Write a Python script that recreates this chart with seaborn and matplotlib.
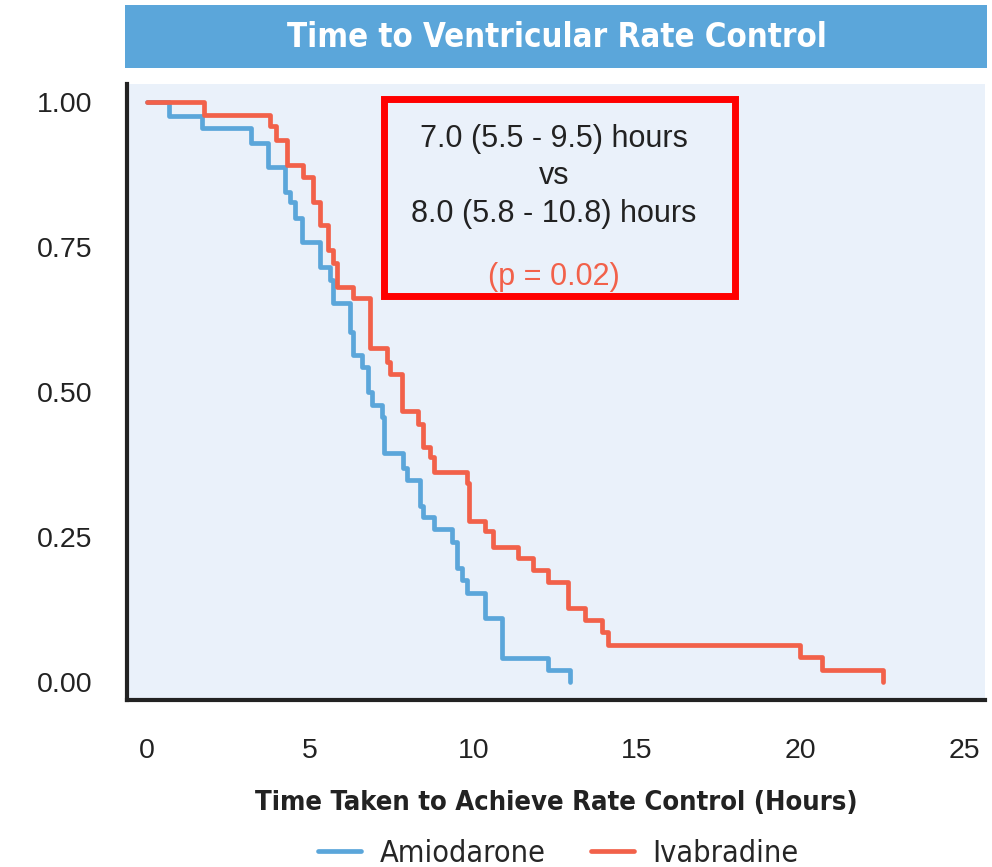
import pandas as pd
import seaborn as sns
import matplotlib.pyplot as plt
from matplotlib.patches import Rectangle
import matplotlib.font_manager as fm

# Kaplan-Meier style steps
amio_time = [0, 0.7, 1.7, 3.2, 3.7, 4.22, 4.38, 4.53, 4.74, 5.29, 5.6, 5.69, 6.21, 6.3,
             6.58, 6.76, 6.88, 7.2, 7.25, 7.83, 7.96, 8.35, 8.45, 8.78, 9.33, 9.49,
             9.64, 9.79, 10.34, 10.86, 12.27, 12.94]
amio_surv = [1.0, 0.976, 0.955, 0.93, 0.888, 0.845, 0.828, 0.80, 0.759, 0.716, 0.693,
             0.653, 0.603, 0.564, 0.543, 0.50, 0.478, 0.457, 0.395, 0.369, 0.348, 0.304,
             0.284, 0.264, 0.241, 0.197, 0.176, 0.153, 0.110, 0.041, 0.021, 0.0]
ivab_time = [0, 1.77, 3.76, 3.97, 4.28, 4.77, 5.1, 5.29, 5.54, 5.69, 5.81, 6.3, 6.82,
             7.34, 7.44, 7.8, 8.29, 8.45, 8.68, 8.78, 9.79, 9.85, 10.34, 10.59, 11.35,
             11.81, 12.27, 12.88, 13.4, 13.92, 14.1, 19.98, 20.65, 22.52]
ivab_surv = [1.0, 0.978, 0.959, 0.934, 0.891, 0.871, 0.828, 0.788, 0.745, 0.722, 0.681,
             0.662, 0.576, 0.552, 0.531, 0.467, 0.445, 0.405, 0.388, 0.362, 0.343, 0.278,
             0.26, 0.233, 0.214, 0.193, 0.172, 0.128, 0.107, 0.086, 0.064, 0.043, 0.021, 0.0]
groups = ["Amiodarone", "Ivabradine"]
colors = ["#5BA6DA", "#F2614A"]
x_ticks = [0, 5, 10, 15, 20, 25]
y_ticks = [0.0, 0.25, 0.5, 0.75, 1.0]
stats_lines = ["7.0 (5.5 - 9.5) hours", "vs", "8.0 (5.8 - 10.8) hours"]
p_text = "(p = 0.02)"

df = pd.concat([
    pd.DataFrame({"time": amio_time, "surv": amio_surv, "group": groups[0]}),
    pd.DataFrame({"time": ivab_time, "surv": ivab_surv, "group": groups[1]}),
])

# look for a condensed face; otherwise fall back to a narrow-ish sans
fonts = fm.fontManager.ttflist
cond_kw = {"family": ["Lato", "DejaVu Sans"]}
if any(f.name == "Liberation Sans Narrow" for f in fonts):
    cond_kw = {"family": ["Liberation Sans Narrow", "DejaVu Sans"]}
elif any(f.name == "DejaVu Sans" and f.stretch == "condensed" for f in fonts):
    cond_kw = {"family": ["DejaVu Sans"], "stretch": "condensed"}
elif any(f.name == "Roboto Condensed" for f in fonts):
    cond_kw = {"family": ["Roboto Condensed", "DejaVu Sans"]}
narrow_found = cond_kw["family"][0] != "Lato"

sns.set_style("white")
plt.rcParams["font.family"] = ["Liberation Sans", "DejaVu Sans"]

fig = plt.figure(figsize=(9.92, 8.67), dpi=100)
ax = fig.add_axes([0.128, 0.1926, 0.865, 0.7105])
ax.set_facecolor("#EAF1FA")

sns.lineplot(data=df, x="time", y="surv", hue="group", palette=colors,
             drawstyle="steps-post", linewidth=3.4, sort=False, estimator=None,
             ax=ax, legend=True)

ax.set_xlim(-0.6, 25.64)
ax.set_ylim(-0.031, 1.031)
ax.set_xticks(x_ticks)
ax.set_yticks(y_ticks)
ax.set_yticklabels([f"{v:.2f}" for v in y_ticks])
ax.tick_params(axis="both", direction="out", length=12, width=2.9, color="#222222",
               labelsize=20.5, labelcolor="#222222")
ax.tick_params(axis="y", pad=13)
ax.tick_params(axis="x", pad=15)
for s in ["top", "right"]:
    ax.spines[s].set_visible(False)
for s in ["left", "bottom"]:
    ax.spines[s].set_linewidth(3)
    ax.spines[s].set_color("#222222")

ax.set_ylabel("")
ax.set_xlabel("Time Taken to Achieve Rate Control (Hours)",
              fontsize=19.6 if narrow_found else 18.5, fontweight="bold",
              color="#222222", labelpad=19, **cond_kw)

# title band
fig.patches.append(Rectangle((0.126, 0.9216), 0.869, 0.0727, transform=fig.transFigure,
                             facecolor="#5BA6DA", edgecolor="none", zorder=0))
fig.text(0.561, 0.957, "Time to Ventricular Rate Control", color="white",
         fontsize=23.7 if narrow_found else 22, fontweight="bold",
         ha="center", va="center", **cond_kw)

# stats box
ax.add_patch(Rectangle((7.25, 0.665), 10.73, 0.34, transform=ax.transData, fill=False,
                       edgecolor="#FF0000", linewidth=5, zorder=5))
for i, line in enumerate(stats_lines):
    ax.text(12.45, 0.937 - i * 0.065, line, ha="center", va="center", fontsize=22,
            color="#222222")
ax.text(12.45, 0.698, p_text, ha="center", va="center", fontsize=22, color=colors[1])

handles, labels = ax.get_legend_handles_labels()
ax.get_legend().remove()
fig.legend(handles, labels, loc="center", bbox_to_anchor=(0.563, 0.016), ncol=2,
           frameon=False, prop={**cond_kw, "size": 22 if narrow_found else 19},
           handlelength=1.4, handletextpad=0.6, columnspacing=1.5)

fig.savefig("out.png", dpi=100)
